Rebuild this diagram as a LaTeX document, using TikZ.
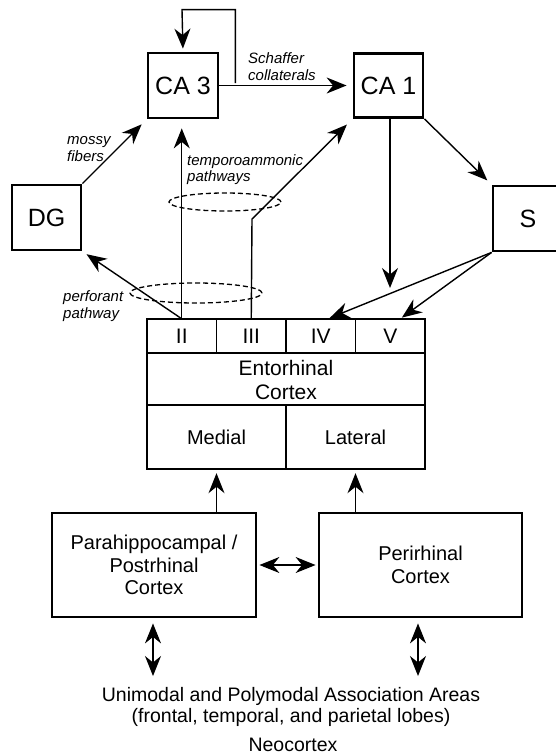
\documentclass[tikz,border=0pt]{standalone}
\usepackage{fontspec}
\setmainfont{Liberation Sans}
\usetikzlibrary{arrows.meta,calc}
\begin{document}
\begin{tikzpicture}[x=1pt,y=-1pt,
  box/.style={draw,line width=2.8pt,inner sep=0pt,align=center},
  big/.style={font=\fontsize{25}{30}\selectfont},
  mid/.style={font=\fontsize{21}{24}\selectfont},
  reg/.style={font=\fontsize{20}{22.5}\selectfont},
  lab/.style={font=\fontsize{15}{16.5}\selectfont\itshape,align=left,inner sep=0pt,anchor=west},
  cell/.style={inner sep=0pt,mid},
  conn/.style={line width=1.4pt,-{Stealth[length=20pt,width=16pt,inset=6.5pt]}},
  dbl/.style={line width=1.4pt,{Stealth[length=20pt,width=16pt,inset=6.5pt]}-{Stealth[length=20pt,width=16pt,inset=6.5pt]}},
  inner/.style={line width=1.3pt},
  ring/.style={line width=1.3pt,dash pattern=on 5pt off 3pt}
]
\useasboundingbox (0,0) rectangle (556,755);
\clip (0,0) rectangle (556,755);

% hippocampal boxes
\node[box,big,minimum width=70pt,minimum height=65pt] (CA3) at (183,85.5) {CA 3};
\node[box,big,minimum width=69pt,minimum height=64pt] (CA1) at (388.5,85.5) {CA 1};
\node[box,big,minimum width=69pt,minimum height=65pt] (DG) at (46.5,217.5) {DG};
\node[box,big,minimum width=70pt,minimum height=65pt] (S) at (528,218.5) {S};

% entorhinal cortex
\node[box,minimum width=278pt,minimum height=150pt] (EC) at (286,394) {};
\draw[inner] (147,353) -- (425,353);
\draw[inner] (147,405) -- (425,405);
\draw[inner] (216.5,319) -- (216.5,353);
\draw[inner] (286,319) -- (286,353);
\draw[inner] (355.5,319) -- (355.5,353);
\draw[inner] (286,405) -- (286,469);
\node[cell,minimum width=69.5pt,minimum height=34pt] (II) at (181.75,336) {II};
\node[cell,minimum width=69.5pt,minimum height=34pt] (III) at (251.25,336) {III};
\node[cell,minimum width=69.5pt,minimum height=34pt] (IV) at (320.75,336) {IV};
\node[cell,minimum width=69.5pt,minimum height=34pt] (V) at (390.25,336) {V};
\node[cell,align=center] (ECt) at (286,380) {Entorhinal\\Cortex};
\node[cell,font=\fontsize{20}{22}\selectfont,minimum width=139pt,minimum height=64pt] (Med) at (216.5,437) {Medial};
\node[cell,font=\fontsize{20}{22}\selectfont,minimum width=139pt,minimum height=64pt] (Lat) at (355.5,437) {Lateral};

% parahippocampal region
\node[box,reg,minimum width=204pt,minimum height=104pt] (Para) at (154,565) {Parahippocampal /\\Postrhinal\\Cortex};
\node[box,reg,minimum width=203pt,minimum height=104pt] (Peri) at (420.5,565) {\raisebox{-4pt}{\parbox{100pt}{\centering Perirhinal\\Cortex}}};

% neocortex
\node[align=center,inner sep=0pt,font=\fontsize{19.5}{21.5}\selectfont] (Neo) at (291,707) {Unimodal and Polymodal Association Areas\\(frontal, temporal, and parietal lobes)};
\node[inner sep=0pt,font=\fontsize{19.5}{21.5}\selectfont] (NeoT) at (293,745) {Neocortex};

% coordinates
\coordinate (bend) at (252,219);
\coordinate (ca1in) at (390,288);
\coordinate (nb1) at (153,676);
\coordinate (nb2) at (418,676);

% connectors
\draw[conn,shorten >=6pt] (CA3.east) -- (CA1.west);
\draw[conn,shorten >=3pt] ($(CA3.east)+(16,-2.5)$) |- ($(CA3.north)+(-1,-42)$) -- (CA3.north);
\draw[conn,shorten >=7pt] (DG.north east) -- (CA3.south west);
\draw[conn,shorten >=6pt] (CA1.south east) -- (S.north west);
\draw[conn] (CA1.south -| ca1in) -- (ca1in);
\draw[conn,shorten >=2pt] (S.south west) -- ($(IV.north)+(7,0)$);
\draw[conn,shorten >=2pt] (S.south west) -- ($(V.north)+(10,0)$);
\draw[conn,shorten >=5pt] (II.north) -- (DG.south east);
\draw[conn,shorten >=9pt] (II.north) -- (II.north |- CA3.south);
\draw[conn,shorten >=8pt] (III.north) -- (bend) -- (CA1.south west);
\draw[conn,shorten >=4pt] (Med.south |- Para.north) -- (Med.south);
\draw[conn,shorten >=4pt] (Lat.south |- Peri.north) -- (Lat.south);
\draw[dbl,shorten <=2pt,shorten >=2pt] (Para.east) -- (Peri.west);
\draw[dbl,shorten <=5pt] (nb1 |- Para.south) -- (nb1);
\draw[dbl,shorten <=5pt] (nb2 |- Peri.south) -- (nb2);

% dashed rings
\draw[ring] (225,202) ellipse [x radius=56pt, y radius=9pt];
\draw[ring] (196,293) ellipse [x radius=66pt, y radius=10pt];

% italic labels
\node[lab] (lSch) at (248,66.5) {Schaffer\\collaterals};
\node[lab] (lMos) at (67,149) {mossy\\fibers};
\node[lab] (lTem) at (187,169.5) {temporoammonic\\pathways};
\node[lab] (lPer) at (63,306) {perforant\\pathway};
\end{tikzpicture}
\end{document}
